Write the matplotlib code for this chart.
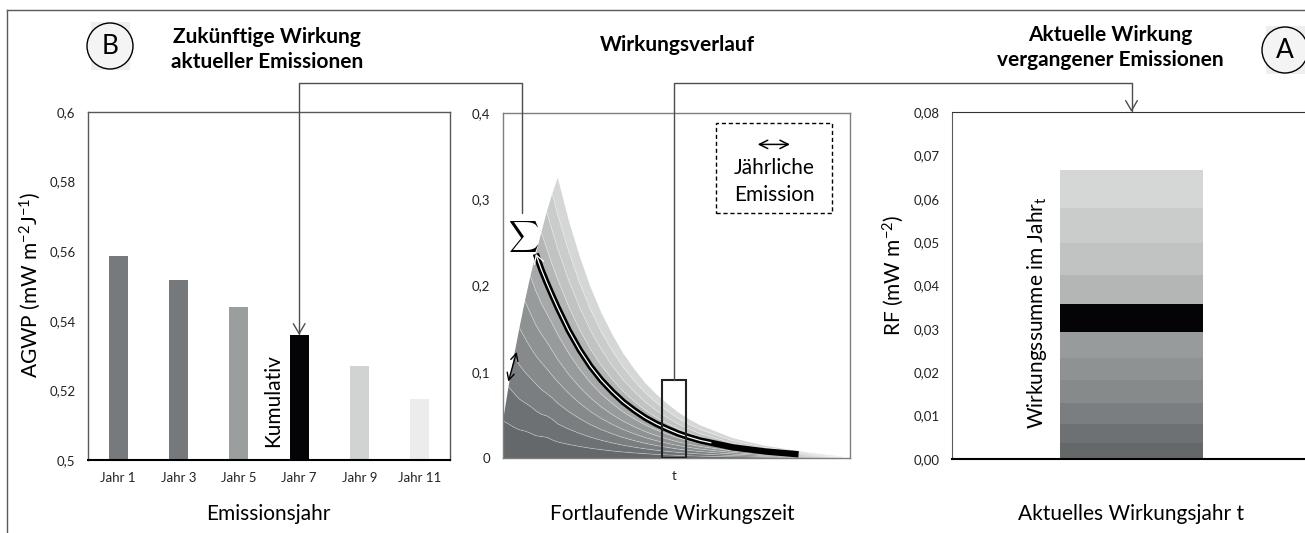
import numpy as np
import matplotlib
matplotlib.use('Agg')
import matplotlib.pyplot as plt
from matplotlib.patches import Rectangle, Ellipse, FancyArrowPatch
from matplotlib.path import Path
from matplotlib.lines import Line2D
from matplotlib.ticker import FuncFormatter

plt.rcParams['font.family'] = ['Lato', 'DejaVu Sans']
plt.rcParams['mathtext.fontset'] = 'custom'
plt.rcParams['mathtext.rm'] = 'Lato'
plt.rcParams['mathtext.it'] = 'Lato:italic'
plt.rcParams['mathtext.bf'] = 'Lato:bold'

# Panel B: AGWP je Emissionsjahr
jahre = ['Jahr 1', 'Jahr 3', 'Jahr 5', 'Jahr 7', 'Jahr 9', 'Jahr 11']
agwp = [0.5586, 0.5518, 0.5441, 0.5359, 0.5270, 0.5175]
farben_b = ['#767a7c', '#76797b', '#9b9e9e', '#040306', '#d1d3d2', '#ececec']

# Panel A: RF-Beitraege der 11 Emissionsjahre im Jahr t (unten = aeltestes)
rf_beitraege = [0.0038, 0.0043, 0.0049, 0.0051, 0.0053, 0.0059,
                0.0064, 0.0067, 0.0073, 0.0081, 0.0088]
farben_a = ['#646868', '#6e7173', '#7b7e80', '#868a8b', '#8f9292', '#989b9b',
            '#040306', '#b4b6b6', '#c1c3c2', '#cacbcb', '#d5d7d6']

# Wirkungsverlauf: Gesamtsumme ab der letzten Emission
jahre_abkl = [10, 12, 14, 16, 18, 20, 22, 24, 26, 28, 30, 32, 34, 36,
              38, 40, 42, 44, 46, 48, 50, 52, 54, 56, 58, 60, 62]
summe_abkl = [0.325, 0.276, 0.234, 0.198, 0.168, 0.143, 0.121, 0.103, 0.087,
              0.074, 0.063, 0.053, 0.045, 0.038, 0.033, 0.028, 0.023, 0.020,
              0.017, 0.014, 0.012, 0.010, 0.008, 0.006, 0.0045, 0.003, 0.0015]
farben_mitte = ['#65686a', '#6e7173', '#7b7e80', '#868a8b', '#8f9292', '#989b9b',
                '#a6a9a9', '#b4b6b6', '#c1c3c2', '#cacbcb', '#d5d7d6']
t_jahr = 31.3

W, H = 1305, 533


def fx(x):
    return x / W


def fy(y):
    return 1 - y / H


def komma(fmt):
    return FuncFormatter(lambda v, p: (fmt % v).replace('.', ','))


fig = plt.figure(figsize=(W / 100, H / 100), dpi=100)

# ---------- Panel B ----------
ax1 = fig.add_axes([fx(88), fy(460), 362 / W, 348 / H])
x1 = np.arange(len(jahre))
ax1.bar(x1, agwp, width=0.32, color=farben_b)
ax1.set_xlim(-0.5, 5.5)
ax1.set_ylim(0.5, 0.6)
ax1.set_yticks([0.5, 0.52, 0.54, 0.56, 0.58, 0.6])
ax1.yaxis.set_major_formatter(komma('%g'))
ax1.set_xticks(x1)
ax1.set_xticklabels(jahre)
ax1.tick_params(length=0, pad=9, labelsize=9.5, labelcolor='#222222')
for s in ['left', 'top', 'right']:
    ax1.spines[s].set_color('#595959')
    ax1.spines[s].set_linewidth(1)
ax1.spines['bottom'].set_color('black')
ax1.spines['bottom'].set_linewidth(1.5)
ax1.text(3 - 0.43, 0.5172, 'Kumulativ', rotation=90, ha='center', va='center', fontsize=15)

# ---------- Wirkungsverlauf ----------
ax2 = fig.add_axes([fx(503), fy(458), 347 / W, 345 / H])
n = len(rf_beitraege)
gesamt_t = sum(rf_beitraege)
anteil = np.array(rf_beitraege) / gesamt_t
spitze = anteil * summe_abkl[0]
x_mitte = list(range(n)) + jahre_abkl[1:]
schichten = np.zeros((n, len(x_mitte)))
for j in range(n):
    for i in range(j + 1):
        schichten[i, j] = spitze[n - 1 - j + i]
for c, s in enumerate(summe_abkl[1:]):
    schichten[:, n + c] = s * anteil
ax2.stackplot(x_mitte, schichten, colors=farben_mitte, linewidth=0)
kum = np.cumsum(schichten, axis=0)
for k in range(n - 1):
    ax2.plot(x_mitte[k:], kum[k, k:], color='white', lw=0.6, alpha=0.35)

# hervorgehobene Emission (Jahr 7) mit Summenpfeil
ende = x_mitte.index(54)
ax2.plot(x_mitte[6:ende + 1], kum[6, 6:ende + 1], color='black', lw=4.6,
         solid_capstyle='butt', zorder=4)
i38 = x_mitte.index(38)
verts = list(zip(x_mitte[6:i38 + 1], kum[6, 6:i38 + 1]))[::-1]
ax2.add_patch(FancyArrowPatch(path=Path(verts), arrowstyle='->,head_length=0.6,head_width=0.35',
                              mutation_scale=10, color='white', lw=0.9,
                              transform=ax2.transData, zorder=5))

ax2.set_xlim(0, 63.4)
ax2.set_ylim(0, 0.4)
ax2.set_yticks([0, 0.1, 0.2, 0.3, 0.4])
ax2.yaxis.set_major_formatter(komma('%g'))
ax2.set_xticks([t_jahr])
ax2.set_xticklabels(['t'])
ax2.tick_params(length=0, pad=9, labelsize=9.5, labelcolor='#222222')
for s in ax2.spines.values():
    s.set_color('#7f7f7f')
    s.set_linewidth(1)

ax2.add_patch(Rectangle((t_jahr - 2.2, 0), 4.4, 0.09, fill=False, ec='#222222', lw=1.5,
                        zorder=6))
ax2.annotate('', xy=(2.5, 0.123), xytext=(0.97, 0.0885),
             arrowprops=dict(arrowstyle='<->', lw=1, color='black', shrinkA=0, shrinkB=0,
                             mutation_scale=13))
ax2.text(0.0585, 0.641, r'$\sum$', transform=ax2.transAxes, ha='center', va='center',
         fontsize=15, math_fontfamily='cm')

ax2.add_patch(Rectangle((0.614, 0.71), 0.334, 0.261, transform=ax2.transAxes,
                        fill=False, ec='black', lw=1, ls=(0, (3, 2))))
ax2.annotate('', xy=(0.827, 0.909), xytext=(0.734, 0.909), xycoords='axes fraction',
             arrowprops=dict(arrowstyle='<->', lw=1.1, color='black', shrinkA=0, shrinkB=0,
                             mutation_scale=15))
ax2.text(0.781, 0.841, 'Jährliche', transform=ax2.transAxes, ha='center', va='center',
         fontsize=15)
ax2.text(0.781, 0.762, 'Emission', transform=ax2.transAxes, ha='center', va='center',
         fontsize=15)

# ---------- Panel A ----------
ax3 = fig.add_axes([fx(952), fy(459), 359 / W, 347 / H])
unten = 0
for wert, farbe in zip(rf_beitraege, farben_a):
    ax3.bar(0, wert, bottom=unten, width=0.4, color=farbe)
    unten += wert
ax3.set_xlim(-0.5, 0.5)
ax3.set_ylim(0, 0.08)
ax3.set_yticks(np.arange(0, 0.081, 0.01))
ax3.yaxis.set_major_formatter(komma('%.2f'))
ax3.set_xticks([])
ax3.tick_params(length=0, pad=9, labelsize=9.5, labelcolor='#222222')
ax3.spines['right'].set_visible(False)
ax3.spines['left'].set_color('#595959')
ax3.spines['top'].set_color('#333333')
ax3.spines['bottom'].set_color('black')
ax3.spines['bottom'].set_linewidth(1.5)
ax3.text(-0.263, 0.0337, r'Wirkungssumme im Jahr$_\mathrm{t}$', rotation=90,
         ha='center', va='center', fontsize=15)

# ---------- Beschriftungen ----------
fig.text(fx(30), fy(285), r'AGWP (mW m$^{-2}$J$^{-1}$)', rotation=90, ha='center',
         va='center', fontsize=15)
fig.text(fx(893), fy(275), r'RF (mW m$^{-2}$)', rotation=90, ha='center',
         va='center', fontsize=15)
fig.text(fx(268), fy(514), 'Emissionsjahr', ha='center', va='center', fontsize=15)
fig.text(fx(672), fy(514), 'Fortlaufende Wirkungszeit', ha='center', va='center', fontsize=15)
fig.text(fx(1131), fy(514), 'Aktuelles Wirkungsjahr t', ha='center', va='center', fontsize=15)

fig.text(fx(267), fy(37), 'Zukünftige Wirkung', ha='center', va='center',
         fontsize=15, fontweight='bold')
fig.text(fx(267), fy(62), 'aktueller Emissionen', ha='center', va='center',
         fontsize=15, fontweight='bold')
fig.text(fx(677), fy(45), 'Wirkungsverlauf', ha='center', va='center',
         fontsize=15, fontweight='bold')
fig.text(fx(1110), fy(35), 'Aktuelle Wirkung', ha='center', va='center',
         fontsize=15, fontweight='bold')
fig.text(fx(1110), fy(60), 'vergangener Emissionen', ha='center', va='center',
         fontsize=15, fontweight='bold')

# Kreise A / B
for cx, cy, buchst in [(110, 46, 'B'), (1285, 50, 'A')]:
    fig.add_artist(Rectangle((fx(cx - 19), fy(cy + 24)), 39 / W, 48 / H,
                             transform=fig.transFigure, fc='#eeeeee', ec='none'))
    fig.add_artist(Ellipse((fx(cx), fy(cy)), 46 / W, 46 / H, transform=fig.transFigure,
                           fc='#f4f4f4', ec='black', lw=1))
    fig.text(fx(cx), fy(cy), buchst, ha='center', va='center', fontsize=19)

# Rahmen
fig.add_artist(Line2D([fx(7), 1], [fy(10), fy(10)], color='#595959', lw=1))
fig.add_artist(Line2D([fx(7), fx(7)], [fy(10), 0], color='#595959', lw=1))


# Verbindungspfeile
def in_fig(ax, xy):
    return fig.transFigure.inverted().transform(ax.transData.transform(xy))


knick = fy(83)
s1 = in_fig(ax2, (3.4, 0.284))
e1 = in_fig(ax1, (3, agwp[3]))
s2 = in_fig(ax2, (t_jahr, 0.09))
e2 = in_fig(ax3, (0, 0.08))
for s, e in [(s1, e1), (s2, e2)]:
    pfad = Path([tuple(s), (s[0], knick), (e[0], knick), tuple(e)])
    fig.add_artist(FancyArrowPatch(path=pfad, arrowstyle='->,head_length=0.6,head_width=0.35',
                                   mutation_scale=12, color='#4d4d4d', lw=1,
                                   transform=fig.transFigure))

fig.savefig('out.png', dpi=100)
